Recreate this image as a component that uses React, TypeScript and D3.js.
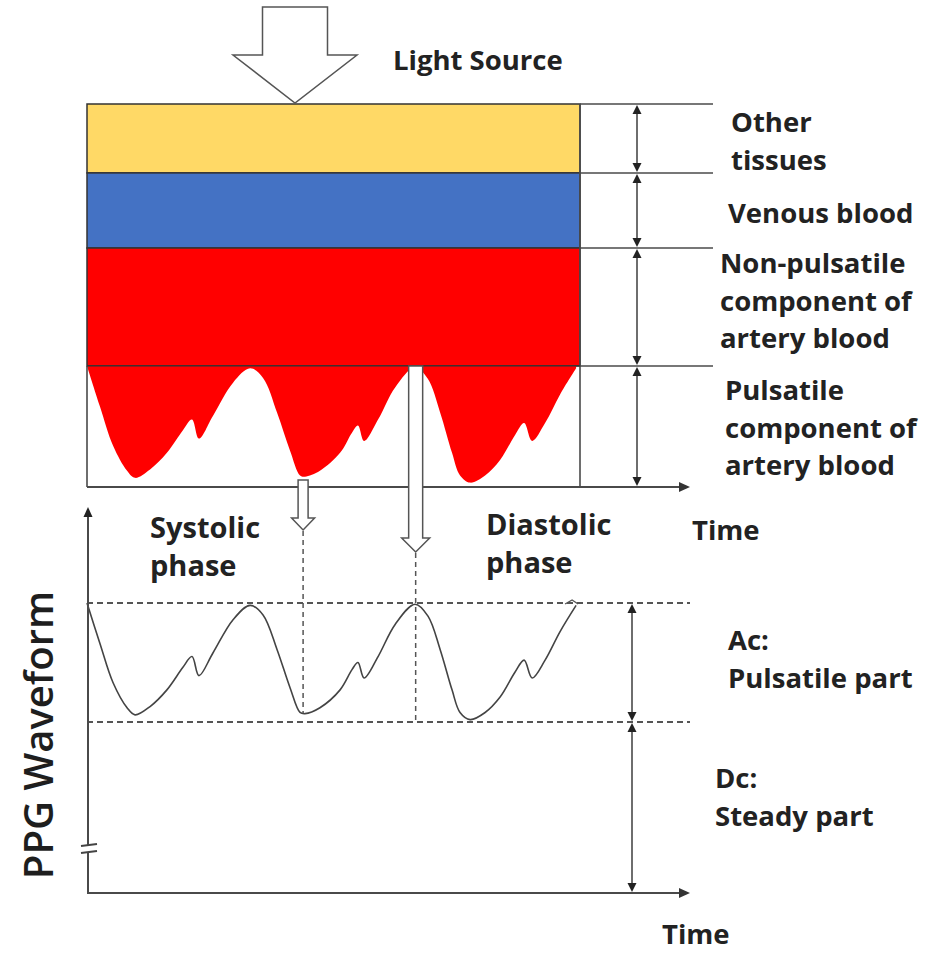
import * as d3 from 'd3';

// PPG waveform key points: time (s) and normalised amplitude
const waveTime = [0.0, 0.063, 0.127, 0.195, 0.234, 0.307, 0.389, 0.467, 0.511, 0.545, 0.613, 0.711, 0.794, 0.857, 0.925, 0.988, 1.037, 1.061,
  1.134, 1.232, 1.29, 1.319, 1.349, 1.417, 1.5, 1.597, 1.66, 1.719, 1.777, 1.816, 1.865,
  1.938, 2.011, 2.084, 2.128, 2.167, 2.23, 2.303, 2.381];
const waveAmp = [1.0, 0.66, 0.33, 0.12, 0.06, 0.13, 0.27, 0.46, 0.55, 0.39, 0.58, 0.86, 0.98, 0.9, 0.61, 0.29, 0.08, 0.07,
  0.12, 0.27, 0.44, 0.5, 0.37, 0.55, 0.82, 0.99, 0.89, 0.61, 0.27, 0.08, 0.02,
  0.08, 0.21, 0.42, 0.52, 0.37, 0.52, 0.76, 0.98];

// tissue layers, relative depth of each boundary (0 = skin surface)
const layerEdges = [0, 0.18, 0.376, 0.684, 1.0];
const layerNames = ['Other tissues', 'Venous blood', 'Non-pulsatile artery', 'Pulsatile artery'];
const layerLabels = [
  ['Other', 'tissues'],
  ['Venous blood'],
  ['Non-pulsatile', 'component of', 'artery blood'],
  ['Pulsatile', 'component of', 'artery blood'],
];
const layerColors = ['#FFD966', '#4472C4', '#FF0000'];

// the two phase markers (time in s)
const systolicT = 1.052;
const diastolicT = 1.6;
const acDcLabels = [['Ac:', 'Pulsatile part'], ['Dc:', 'Steady part']];

const W = 933;
const H = 953;
const font = { fontFamily: '"Open Sans", sans-serif', fontWeight: 700, fontSize: 27.5, fill: '#222' };
const LINE = '#4a4a4a';

const tri = (x: number, y: number, dir: 'up' | 'down' | 'right', s = 5, l = 9) => {
  if (dir === 'up') return `M${x},${y}L${x - s},${y + l}L${x + s},${y + l}Z`;
  if (dir === 'down') return `M${x},${y}L${x - s},${y - l}L${x + s},${y - l}Z`;
  return `M${x},${y}L${x - l},${y - s}L${x - l},${y + s}Z`;
};

const DoubleArrow = ({ x, y1, y2 }: { x: number; y1: number; y2: number }) => (
  <g>
    <line x1={x} x2={x} y1={y1 + 4} y2={y2 - 4} stroke={LINE} strokeWidth={1.6} />
    <path d={tri(x, y1 + 1, 'up', 4.5, 9)} fill="#222" />
    <path d={tri(x, y2 - 1, 'down', 4.5, 9)} fill="#222" />
  </g>
);

// hollow block arrow pointing down
const BlockArrow = ({ cx, top, shaftW, headW, headTop, tip }: { cx: number; top: number; shaftW: number; headW: number; headTop: number; tip: number }) => {
  const p = d3.path();
  p.moveTo(cx - shaftW / 2, top);
  p.lineTo(cx - shaftW / 2, headTop);
  p.lineTo(cx - headW / 2, headTop);
  p.lineTo(cx, tip);
  p.lineTo(cx + headW / 2, headTop);
  p.lineTo(cx + shaftW / 2, headTop);
  p.lineTo(cx + shaftW / 2, top);
  p.closePath();
  return <path d={p.toString()} fill="#fff" stroke="#555" strokeWidth={1.5} strokeLinejoin="miter" />;
};

export default function App() {
  const x = d3.scaleLinear().domain([0, 2.4]).range([87, 580]);
  const depth = d3.scaleLinear().domain([0, 1]).range([104, 487]);
  const yTop = d3.scaleLinear().domain([0, 1]).range([485, depth(layerEdges[3])]);
  const yBot = d3.scaleLinear().domain([0, 1]).range([722, 603]);

  const pts: [number, number][] = waveTime.map((t, i) => [t, waveAmp[i]]);
  const curve = d3.curveCatmullRom.alpha(0.5);
  const redArea = d3.area<[number, number]>()
    .x(d => x(d[0]))
    .y0(depth(layerEdges[3]))
    .y1(d => yTop(d[1]))
    .curve(curve);
  const waveLine = d3.line<[number, number]>()
    .x(d => x(d[0]))
    .y(d => yBot(d[1]))
    .curve(curve);

  const [x0, x1] = x.range();
  const axisEnd = 690;
  const topAxisY = depth(1);
  const botAxisY = 893;
  const arrowX = 637;
  const arrowX2 = 632;

  // value at the systolic marker (trough)
  const sysAmp = waveAmp[waveTime.findIndex(t => t >= systolicT)];

  return (
    <svg width={W} height={H} style={{ position: 'absolute', left: 0, top: 0, background: '#fff' }}>
      <rect width={W} height={H} fill="#fff" />

      {/* tissue bands */}
      {layerColors.map((c, i) => (
        <rect key={layerNames[i]} x={x0} width={x1 - x0} y={depth(layerEdges[i])}
          height={depth(layerEdges[i + 1]) - depth(layerEdges[i])} fill={c} stroke="#333" strokeWidth={1.5} />
      ))}
      {/* pulsatile component */}
      <path d={redArea(pts) ?? ''} fill={layerColors[2]} />
      <line x1={x0} x2={x0} y1={depth(layerEdges[3])} y2={topAxisY} stroke={LINE} strokeWidth={1.6} />
      <line x1={x1} x2={x1} y1={depth(0)} y2={topAxisY} stroke={LINE} strokeWidth={1.6} />
      <line x1={x0} x2={x1} y1={depth(layerEdges[3])} y2={depth(layerEdges[3])} stroke="#333" strokeWidth={1.2} />
      <line x1={x0} x2={axisEnd - 6} y1={topAxisY} y2={topAxisY} stroke={LINE} strokeWidth={2} />
      <path d={tri(axisEnd, topAxisY, 'right', 5, 11)} fill="#333" />

      {/* boundary leader lines and double arrows */}
      {layerEdges.slice(0, 4).map((e, i) => (
        <line key={'l' + i} x1={x1} x2={713} y1={depth(e)} y2={depth(e)} stroke={LINE} strokeWidth={1.4} />
      ))}
      {layerEdges.slice(0, 4).map((e, i) => (
        <DoubleArrow key={'a' + i} x={arrowX} y1={depth(e)} y2={depth(layerEdges[i + 1])} />
      ))}
      {layerLabels.map((lines, i) => {
        const starts = [[731, 132], [728, 223], [720, 273], [725, 400]][i];
        return (
          <text key={'t' + i} x={starts[0]} y={starts[1]} {...font}>
            {lines.map((s, j) => <tspan key={j} x={starts[0]} dy={j === 0 ? 0 : 37.5}>{s}</tspan>)}
          </text>
        );
      })}

      {/* light source */}
      <BlockArrow cx={295} top={7} shaftW={65} headW={124} headTop={55} tip={103} />
      <text x={393} y={70} {...font}>Light Source</text>
      <text x={692} y={540} {...font}>Time</text>

      {/* phase arrows */}
      <BlockArrow cx={x(systolicT)} top={480} shaftW={10} headW={23} headTop={518} tip={530} />
      <BlockArrow cx={x(diastolicT)} top={depth(layerEdges[3])} shaftW={14} headW={28} headTop={538} tip={552} />
      <line x1={x(systolicT)} x2={x(systolicT)} y1={531} y2={yBot(sysAmp)} stroke="#555" strokeWidth={1.5} strokeDasharray="5,4" />
      <line x1={x(diastolicT)} x2={x(diastolicT)} y1={553} y2={yBot(0)} stroke="#555" strokeWidth={1.5} strokeDasharray="5,4" />
      <text x={150} y={538} {...font} fontSize={29}>
        <tspan x={150}>Systolic</tspan>
        <tspan x={150} dy={38}>phase</tspan>
      </text>
      <text x={486} y={535} {...font} fontSize={29}>
        <tspan x={486}>Diastolic</tspan>
        <tspan x={486} dy={38}>phase</tspan>
      </text>

      {/* PPG waveform panel */}
      <line x1={x0} x2={axisEnd} y1={yBot(1)} y2={yBot(1)} stroke="#555" strokeWidth={1.8} strokeDasharray="6,4" />
      <line x1={x0} x2={axisEnd} y1={yBot(0)} y2={yBot(0)} stroke="#555" strokeWidth={1.8} strokeDasharray="6,4" />
      <path d={waveLine(pts) ?? ''} fill="none" stroke="#444" strokeWidth={1.6} />
      <path d={`M${x(2.381) - 11},${yBot(1) + 1}L${x(2.381) - 4},${yBot(1) - 3}L${x(2.381) + 2},${yBot(1) + 1}`}
        fill="none" stroke="#555" strokeWidth={1.4} />

      <line x1={88} x2={88} y1={botAxisY} y2={516} stroke={LINE} strokeWidth={2} />
      <path d={tri(88, 507, 'up', 4.5, 10)} fill="#222" />
      <rect x={82} y={846} width={14} height={6} fill="#fff" />
      <line x1={81} x2={97} y1={846} y2={844} stroke="#444" strokeWidth={1.8} />
      <line x1={81} x2={97} y1={853} y2={851} stroke="#444" strokeWidth={1.8} />
      <line x1={87} x2={axisEnd - 6} y1={botAxisY} y2={botAxisY} stroke={LINE} strokeWidth={2} />
      <path d={tri(axisEnd, botAxisY, 'right', 5, 11)} fill="#333" />
      <text x={662} y={944} {...font}>Time</text>

      <DoubleArrow x={arrowX2} y1={yBot(1)} y2={yBot(0)} />
      <DoubleArrow x={arrowX2} y1={yBot(0)} y2={botAxisY} />
      {acDcLabels.map((lines, i) => {
        const st = [[728, 650], [715, 788]][i];
        return (
          <text key={'ac' + i} x={st[0]} y={st[1]} {...font}>
            {lines.map((s, j) => <tspan key={j} x={st[0]} dy={j === 0 ? 0 : 38}>{s}</tspan>)}
          </text>
        );
      })}

      <text transform="translate(53,735) rotate(-90)" textAnchor="middle" fontFamily='"Open Sans", sans-serif'
        fontSize={40} fontWeight={600} fill="#1e1e1e">PPG Waveform</text>
    </svg>
  );
}
